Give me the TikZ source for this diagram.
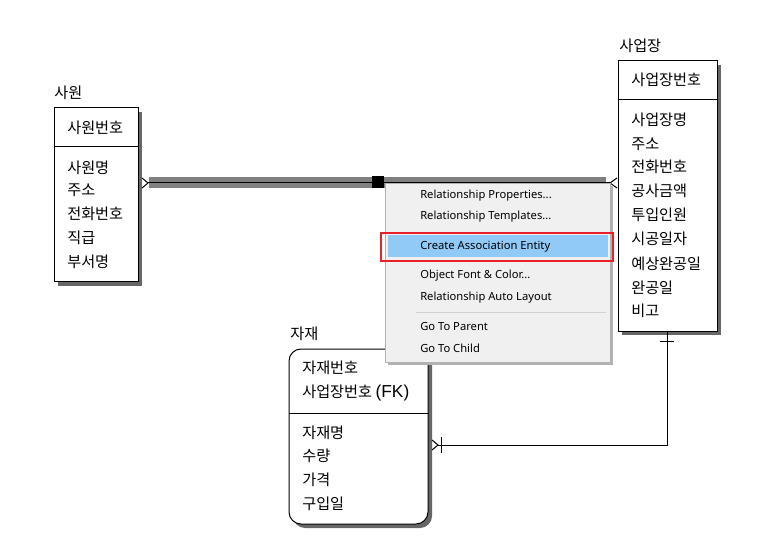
\documentclass[tikz,border=0pt]{standalone}
\usepackage{fontspec}
\setmainfont{Noto Sans}
\newfontfamily\kr{Noto Sans CJK KR}
\newfontfamily\fkfont{Liberation Sans}
\usetikzlibrary{shadows}
\definecolor{bandgray}{RGB}{128,128,128}
\definecolor{menubg}{RGB}{240,240,240}
\definecolor{menuhl}{RGB}{145,201,247}
\definecolor{menured}{RGB}{232,32,40}
\begin{document}
\begin{tikzpicture}[x=0.75pt, y=-0.75pt,
  entity/.style={draw, line width=0.75pt, fill=white, inner sep=0,
    general shadow={fill=black!60, shadow xshift=3pt, shadow yshift=-3pt}},
  attr/.style={anchor=west, inner sep=0, font=\kr\fontsize{11.4}{13}\selectfont},
  item/.style={anchor=west, inner sep=0, font=\fontsize{8.4}{10}\selectfont},
  rel/.style={line width=0.75pt}
]
\useasboundingbox (0,0) rectangle (762,548);

\node[entity, minimum width=63pt, minimum height=130.5pt] (emp) at (96,195) {};
\draw[rel] (emp.west |- 0,147) -- (emp.east |- 0,147);
\node[attr] (empname) at (54,93) {사원};
\node[attr] (empkey) at (67,128) {사원번호};
\node[attr] (emp1) at (67,168) {사원명};
\node[attr] (emp2) at (67,190) {주소};
\node[attr] (emp3) at (67,214) {전화번호};
\node[attr] (emp4) at (67,238) {직급};
\node[attr] (emp5) at (67,262) {부서명};

\node[entity, minimum width=74.25pt, minimum height=202.5pt] (site) at (667.5,196) {};
\draw[rel] (site.west |- 0,100) -- (site.east |- 0,100);
\node[attr] (sitename) at (619,46) {사업장};
\node[attr] (sitekey) at (631,80) {사업장번호};
\node[attr] (site1) at (631,120) {사업장명};
\node[attr] (site2) at (631,144) {주소};
\node[attr] (site3) at (631,167) {전화번호};
\node[attr] (site4) at (631,191) {공사금액};
\node[attr] (site5) at (631,215) {투입인원};
\node[attr] (site6) at (631,239) {시공일자};
\node[attr] (site7) at (631,264) {예상완공일};
\node[attr] (site8) at (631,288) {완공일};
\node[attr] (site9) at (631,311) {비고};

\node[entity, rounded corners=9pt, minimum width=104.25pt, minimum height=131.25pt] (mat) at (358.5,436.5) {};
\draw[rel] (mat.west |- 0,413) -- (mat.east |- 0,413);
\node[attr] (matname) at (290,334) {자재};
\node[attr] (matkey) at (302,368) {자재번호};
\node[attr] (matfk) at (302,393) {사업장번호 {\fkfont\fontsize{13}{15}\selectfont(FK)}};
\node[attr] (mat1) at (302,433) {자재명};
\node[attr] (mat2) at (302,456) {수량};
\node[attr] (mat3) at (302,480) {가격};
\node[attr] (mat4) at (302,504) {구입일};

\fill[bandgray] (149,177) rectangle (606,188);
\coordinate (r1a) at (148,183);
\coordinate (r1b) at (610,183);
\draw[rel] (r1a) -- (r1b);
\draw[rel] (142,178) -- (r1a) -- (142,188);
\draw[rel] (617,178) -- (r1b) -- (617,188);
\node[fill=black, minimum size=9pt, inner sep=0] (handle) at (378,182.5) {};

\coordinate (r2b) at (438,445);
\draw[rel] (site.south) |- (r2b);
\draw[rel] (660,341) -- (674,341);
\draw[rel] (432,440) -- (r2b) -- (432,450);
\draw[rel] (441,437) -- (441,453);

\node[draw=black!30, fill=menubg, inner sep=0, minimum width=168.75pt, minimum height=134.25pt,
  general shadow={fill=black!30, shadow xshift=2pt, shadow yshift=-2pt}] (menu) at (497.5,272.5) {};
\node[fill=menuhl, inner sep=0, minimum width=165pt, minimum height=16.5pt] (hl) at (498,246) {};
\node[draw=menured, line width=1.5pt, inner sep=0, minimum width=174pt, minimum height=21pt] (mark) at (497,247) {};
\draw[black!18] (416,312) -- (606,312);
\node[item] (m1) at (420,196) {Relationship Properties...};
\node[item] (m2) at (420,217) {Relationship Templates...};
\node[item] (m3) at (420,247) {Create Association Entity};
\node[item] (m4) at (420,276) {Object Font \& Color...};
\node[item] (m5) at (420,298) {Relationship Auto Layout};
\node[item] (m6) at (420,327) {Go To Parent};
\node[item] (m7) at (420,348) {Go To Child};
\end{tikzpicture}
\end{document}
